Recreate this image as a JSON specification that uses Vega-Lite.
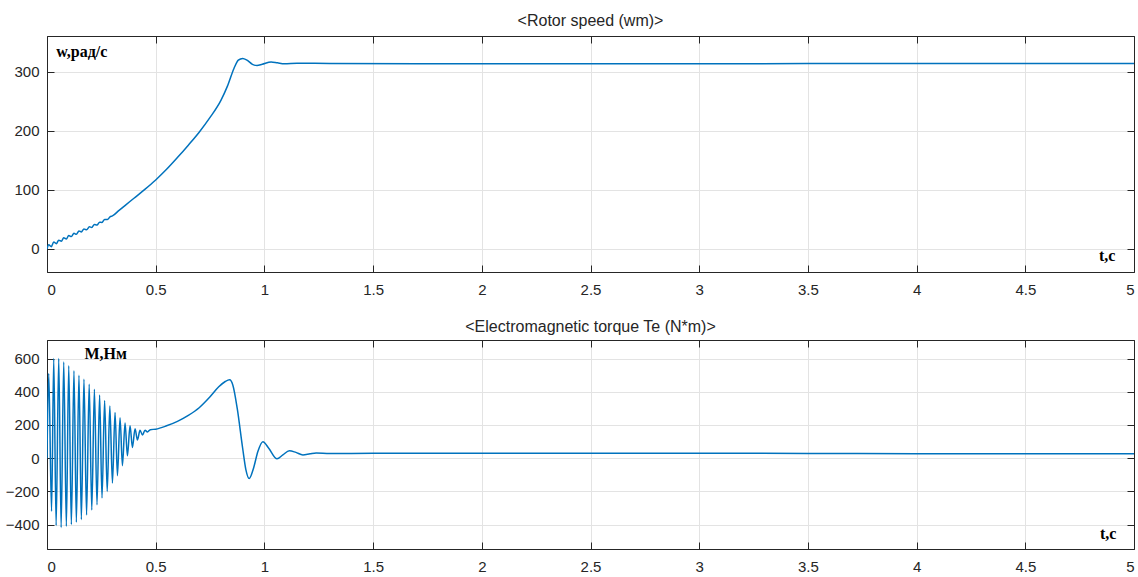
{
  "$schema": "https://vega.github.io/schema/vega-lite/v6.json",
  "background": "white",
  "padding": {"left": 4, "top": 12, "right": 5, "bottom": 5},
  "bounds": "flush",
  "spacing": 68,
  "config": {
    "view": {"stroke": "#262626", "strokeWidth": 1},
    "axis": {"labelFont": "Liberation Sans", "labelFontSize": 15, "labelColor": "#262626", "tickColor": "#262626", "tickSize": -7, "tickWidth": 1, "domain": true, "domainColor": "#262626", "domainWidth": 1, "gridColor": "#e3e3e3", "gridWidth": 1, "title": null},
    "title": {"font": "Liberation Sans", "fontSize": 16, "fontWeight": "normal", "color": "#262626"}
  },
  "datasets": {
    "speed": [
      {"t": 0, "w": 0}, {"t": 0.008, "w": 7}, {"t": 0.02, "w": 4}, {"t": 0.031, "w": 12}, {"t": 0.043, "w": 9},
      {"t": 0.054, "w": 15}, {"t": 0.066, "w": 13}, {"t": 0.077, "w": 19}, {"t": 0.089, "w": 17}, {"t": 0.1, "w": 23},
      {"t": 0.112, "w": 21}, {"t": 0.124, "w": 26.5}, {"t": 0.135, "w": 25}, {"t": 0.147, "w": 30.5}, {"t": 0.158, "w": 29},
      {"t": 0.17, "w": 34}, {"t": 0.182, "w": 32.5}, {"t": 0.195, "w": 37.5}, {"t": 0.206, "w": 36.5}, {"t": 0.218, "w": 41.5},
      {"t": 0.23, "w": 40.5}, {"t": 0.242, "w": 45.5}, {"t": 0.253, "w": 45}, {"t": 0.265, "w": 50}, {"t": 0.278, "w": 50},
      {"t": 0.29, "w": 54.5}, {"t": 0.301, "w": 56}, {"t": 0.33, "w": 65}, {"t": 0.36, "w": 74}, {"t": 0.4, "w": 86},
      {"t": 0.45, "w": 101}, {"t": 0.5, "w": 117}, {"t": 0.55, "w": 135}, {"t": 0.6, "w": 155}, {"t": 0.65, "w": 176},
      {"t": 0.7, "w": 198}, {"t": 0.75, "w": 223}, {"t": 0.8, "w": 252}, {"t": 0.83, "w": 276}, {"t": 0.86, "w": 306},
      {"t": 0.88, "w": 320}, {"t": 0.9, "w": 323}, {"t": 0.92, "w": 320}, {"t": 0.945, "w": 313}, {"t": 0.966, "w": 311},
      {"t": 0.99, "w": 313}, {"t": 1.031, "w": 317}, {"t": 1.06, "w": 315.5}, {"t": 1.092, "w": 314}, {"t": 1.15, "w": 315},
      {"t": 1.3, "w": 314.5}, {"t": 2, "w": 314}, {"t": 3, "w": 314}, {"t": 4, "w": 314.5}, {"t": 5, "w": 314.5}
    ],
    "torque": [
      {"t": 0, "T": 0}, {"t": 0.008, "T": 510}, {"t": 0.021, "T": -320}, {"t": 0.031, "T": 600}, {"t": 0.042, "T": -405},
      {"t": 0.054, "T": 600}, {"t": 0.065, "T": -418}, {"t": 0.077, "T": 580}, {"t": 0.089, "T": -410}, {"t": 0.1, "T": 557},
      {"t": 0.112, "T": -400}, {"t": 0.124, "T": 527}, {"t": 0.135, "T": -386}, {"t": 0.147, "T": 500}, {"t": 0.158, "T": -370},
      {"t": 0.17, "T": 475}, {"t": 0.182, "T": -342}, {"t": 0.194, "T": 446}, {"t": 0.206, "T": -312}, {"t": 0.218, "T": 416},
      {"t": 0.23, "T": -280}, {"t": 0.242, "T": 380}, {"t": 0.253, "T": -240}, {"t": 0.265, "T": 348}, {"t": 0.277, "T": -200},
      {"t": 0.289, "T": 314}, {"t": 0.301, "T": -150}, {"t": 0.313, "T": 275}, {"t": 0.324, "T": -105}, {"t": 0.336, "T": 244},
      {"t": 0.347, "T": -45}, {"t": 0.359, "T": 212}, {"t": 0.37, "T": 15}, {"t": 0.382, "T": 195}, {"t": 0.393, "T": 65},
      {"t": 0.405, "T": 178}, {"t": 0.416, "T": 110}, {"t": 0.428, "T": 168}, {"t": 0.439, "T": 140}, {"t": 0.451, "T": 168},
      {"t": 0.462, "T": 158}, {"t": 0.475, "T": 172}, {"t": 0.5, "T": 175}, {"t": 0.55, "T": 195}, {"t": 0.6, "T": 222},
      {"t": 0.65, "T": 258}, {"t": 0.7, "T": 304}, {"t": 0.75, "T": 370}, {"t": 0.79, "T": 430}, {"t": 0.82, "T": 462},
      {"t": 0.84, "T": 472}, {"t": 0.855, "T": 440}, {"t": 0.875, "T": 300}, {"t": 0.9, "T": 60}, {"t": 0.915, "T": -70},
      {"t": 0.93, "T": -122}, {"t": 0.95, "T": -60}, {"t": 0.97, "T": 40}, {"t": 0.993, "T": 99}, {"t": 1.02, "T": 60},
      {"t": 1.058, "T": -4}, {"t": 1.085, "T": 20}, {"t": 1.115, "T": 45}, {"t": 1.145, "T": 35}, {"t": 1.177, "T": 20},
      {"t": 1.21, "T": 27}, {"t": 1.238, "T": 32}, {"t": 1.3, "T": 28}, {"t": 1.5, "T": 30}, {"t": 2, "T": 30},
      {"t": 2.5, "T": 30}, {"t": 3, "T": 30}, {"t": 3.5, "T": 29}, {"t": 4, "T": 27}, {"t": 4.5, "T": 27}, {"t": 5, "T": 27}
    ],
    "labels1": [
      {"t": 0.16, "v": 326, "label": "w,рад/с"},
      {"t": 4.877, "v": -21, "label": "t,c"}
    ],
    "labels2": [
      {"t": 0.27, "v": 600, "label": "M,Нм"},
      {"t": 4.881, "v": -486, "label": "t,c"}
    ]
  },
  "vconcat": [
    {
      "width": 1087,
      "height": 236,
      "title": {"text": "<Rotor speed (wm)>", "baseline": "bottom", "offset": -9},
      "layer": [
        {
          "data": {"name": "speed"},
          "mark": {"type": "line", "color": "#0072BD", "strokeWidth": 1.5, "interpolate": "monotone", "clip": true},
          "encoding": {
            "x": {"field": "t", "type": "quantitative", "scale": {"domain": [0, 5], "nice": false, "zero": false},
                  "axis": {"orient": "bottom", "values": [0, 0.5, 1, 1.5, 2, 2.5, 3, 3.5, 4, 4.5, 5], "format": "~g", "labelPadding": 17, "grid": true}},
            "y": {"field": "w", "type": "quantitative", "scale": {"domain": [-39, 361], "nice": false, "zero": false},
                  "axis": {"orient": "left", "values": [0, 100, 200, 300], "labelPadding": 15, "grid": true}}
          }
        },
        {
          "data": {"name": "speed"},
          "mark": {"type": "line", "opacity": 0},
          "encoding": {
            "x": {"field": "t", "type": "quantitative", "axis": {"orient": "top", "values": [0, 0.5, 1, 1.5, 2, 2.5, 3, 3.5, 4, 4.5, 5], "labels": false, "grid": false}},
            "y": {"field": "w", "type": "quantitative", "axis": {"orient": "right", "values": [0, 100, 200, 300], "labels": false, "grid": false}}
          }
        },
        {
          "data": {"name": "labels1"},
          "mark": {"type": "text", "font": "Liberation Serif", "fontWeight": "bold", "fontSize": 16, "color": "black", "baseline": "alphabetic", "align": "center"},
          "encoding": {
            "x": {"field": "t", "type": "quantitative", "axis": null},
            "y": {"field": "v", "type": "quantitative", "axis": null},
            "text": {"field": "label"}
          }
        }
      ],
      "resolve": {"axis": {"x": "independent", "y": "independent"}}
    },
    {
      "width": 1087,
      "height": 209,
      "title": {"text": "<Electromagnetic torque Te (N*m)>", "baseline": "bottom", "offset": -11},
      "layer": [
        {
          "data": {"name": "torque"},
          "mark": {"type": "line", "color": "#0072BD", "strokeWidth": 1.5, "interpolate": "monotone", "clip": true},
          "encoding": {
            "x": {"field": "t", "type": "quantitative", "scale": {"domain": [0, 5], "nice": false, "zero": false},
                  "axis": {"orient": "bottom", "values": [0, 0.5, 1, 1.5, 2, 2.5, 3, 3.5, 4, 4.5, 5], "format": "~g", "labelPadding": 17, "grid": true}},
            "y": {"field": "T", "type": "quantitative", "scale": {"domain": [-547, 712], "nice": false, "zero": false},
                  "axis": {"orient": "left", "values": [-400, -200, 0, 200, 400, 600], "labelPadding": 15, "grid": true}}
          }
        },
        {
          "data": {"name": "torque"},
          "mark": {"type": "line", "opacity": 0},
          "encoding": {
            "x": {"field": "t", "type": "quantitative", "axis": {"orient": "top", "values": [0, 0.5, 1, 1.5, 2, 2.5, 3, 3.5, 4, 4.5, 5], "labels": false, "grid": false}},
            "y": {"field": "T", "type": "quantitative", "axis": {"orient": "right", "values": [-400, -200, 0, 200, 400, 600], "labels": false, "grid": false}}
          }
        },
        {
          "data": {"name": "labels2"},
          "mark": {"type": "text", "font": "Liberation Serif", "fontWeight": "bold", "fontSize": 16, "color": "black", "baseline": "alphabetic", "align": "center"},
          "encoding": {
            "x": {"field": "t", "type": "quantitative", "axis": null},
            "y": {"field": "v", "type": "quantitative", "axis": null},
            "text": {"field": "label"}
          }
        }
      ],
      "resolve": {"axis": {"x": "independent", "y": "independent"}}
    }
  ]
}
